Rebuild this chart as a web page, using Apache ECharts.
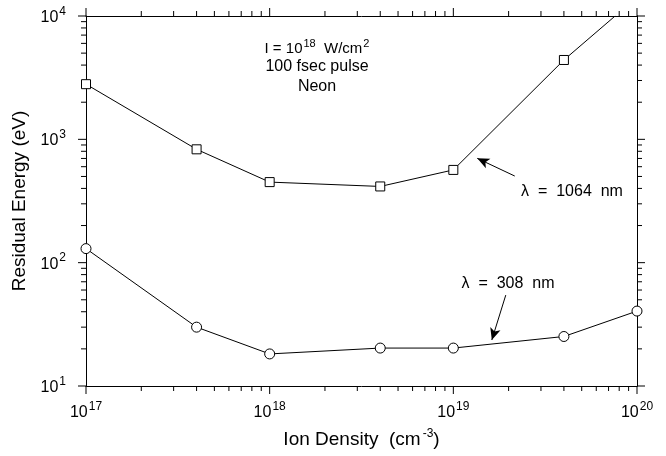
<!DOCTYPE html>
<html><head><meta charset="utf-8">
<script src="https://cdn.jsdelivr.net/npm/echarts@6/dist/echarts.min.js"></script>
<style>html,body{margin:0;padding:0;background:#fff}#c{width:666px;height:456px}</style>
</head><body><div id="c"></div>
<script>
// ---- data ----
const density1064 = [1e17, 4e17, 1e18, 4e18, 1e19, 4e19, 7.6e19];
const energy1064  = [2800, 830, 450, 415, 565, 4400, 10000];
const density308  = [1e17, 4e17, 1e18, 4e18, 1e19, 4e19, 1e20];
const energy308   = [130, 30, 18.2, 20.3, 20.3, 25.2, 40.5];
const xTickExps = [17, 18, 19, 20];
const yTickExps = [1, 2, 3, 4];
const arrow1064 = [[2.16e19, 504], [1.35e19, 701]];
const arrow308  = [[1.93e19, 54.6], [1.62e19, 23.6]];

const FONT = 'Liberation Sans';
const xMin = Math.pow(10, xTickExps[0]), xMax = Math.pow(10, xTickExps[xTickExps.length-1]);
const yMin = Math.pow(10, yTickExps[0]), yMax = Math.pow(10, yTickExps[yTickExps.length-1]);

// tick positions: majors 10^n, minors 2..9 x 10^n
const tickData = [];
xTickExps.forEach(e => tickData.push([Math.pow(10, e), yMin, 0, 8]));
yTickExps.forEach(e => tickData.push([xMin, Math.pow(10, e), 1, 8]));
for (let i = 0; i < xTickExps.length - 1; i++) for (let k = 2; k <= 9; k++) tickData.push([k * Math.pow(10, xTickExps[i]), yMin, 0, 5]);
for (let i = 0; i < yTickExps.length - 1; i++) for (let k = 2; k <= 9; k++) tickData.push([xMin, k * Math.pow(10, yTickExps[i]), 1, 5]);

const supRich = {
  b: {fontFamily: FONT, fontSize: 16, color: '#000', verticalAlign: 'bottom', lineHeight: 19},
  s: {fontFamily: FONT, fontSize: 12, color: '#000', verticalAlign: 'bottom', lineHeight: 19, padding: [0, 0, 8, 1]}
};
function expLabel(v) {
  const e = Math.round(Math.log10(v));
  return '{b|10}{s|' + e + '}';
}

const chart = echarts.init(document.getElementById('c'), null, {renderer: 'canvas'});
const axisLine = {show: true, lineStyle: {color: '#000', width: 1}};
chart.setOption({
  backgroundColor: '#fff',
  animation: false,
  grid: {left: 86, right: 29, top: 16, bottom: 70, containLabel: false},
  xAxis: [{
    type: 'log', min: xMin, max: xMax, logBase: 10,
    axisLine, splitLine: {show: false}, axisTick: {show: false},
    axisLabel: {formatter: expLabel, rich: supRich, margin: 16},
    name: '{a|Ion Density  (cm}{s|-3}{a|)}', nameLocation: 'middle', nameGap: 41,
    nameTextStyle: {rich: {
      a: {fontFamily: FONT, fontSize: 19, color: '#000', verticalAlign: 'bottom', lineHeight: 22},
      s: {fontFamily: FONT, fontSize: 12, color: '#000', verticalAlign: 'bottom', lineHeight: 22, padding: [0, 0, 9, 2]}
    }}
  }, {
    type: 'log', min: xMin, max: xMax, position: 'top',
    axisLine, splitLine: {show: false}, axisTick: {show: false}, axisLabel: {show: false}
  }],
  yAxis: [{
    type: 'log', min: yMin, max: yMax, logBase: 10,
    axisLine, splitLine: {show: false}, axisTick: {show: false},
    axisLabel: {formatter: expLabel, rich: supRich, margin: 20},
    name: 'Residual Energy (eV)', nameLocation: 'middle', nameGap: 53,
    nameTextStyle: {fontFamily: FONT, fontSize: 19, color: '#000'}
  }, {
    type: 'log', min: yMin, max: yMax, position: 'right',
    axisLine, splitLine: {show: false}, axisTick: {show: false}, axisLabel: {show: false}
  }],
  series: [{
    type: 'line', name: '1064',
    data: density1064.map((x, i) => i === density1064.length - 1
      ? {value: [x, energy1064[i]], symbol: 'none'}
      : [x, energy1064[i]]),
    symbol: 'rect', symbolSize: 9, showAllSymbol: true,
    itemStyle: {color: '#fff', borderColor: '#000', borderWidth: 1},
    lineStyle: {color: '#000', width: 1},
    markLine: {
      silent: true, symbol: ['none', 'arrow'], symbolSize: [8, 12],
      lineStyle: {color: '#000', width: 1, type: 'solid'}, label: {show: false},
      data: [[{coord: arrow1064[0]}, {coord: arrow1064[1]}]]
    },
    z: 3
  }, {
    type: 'line', name: '308',
    data: density308.map((x, i) => [x, energy308[i]]),
    symbol: 'circle', symbolSize: 10, showAllSymbol: true,
    itemStyle: {color: '#fff', borderColor: '#000', borderWidth: 1},
    lineStyle: {color: '#000', width: 1},
    markLine: {
      silent: true, symbol: ['none', 'arrow'], symbolSize: [8, 12],
      lineStyle: {color: '#000', width: 1, type: 'solid'}, label: {show: false},
      data: [[{coord: arrow308[0]}, {coord: arrow308[1]}]]
    },
    z: 3
  }, {
    type: 'custom', name: 'ticks', silent: true, clip: false,
    data: tickData,
    renderItem: function (params, api) {
      const kind = api.value(2);
      const L = api.value(3);
      const st = {stroke: '#000', lineWidth: 1};
      if (kind === 0) {
        const v = api.value(0);
        const b = api.coord([v, yMin]);
        const t = api.coord([v, yMax]);
        return {type: 'group', children: [
          {type: 'line', shape: {x1: b[0], y1: b[1], x2: b[0], y2: b[1] + L}, style: st},
          {type: 'line', shape: {x1: t[0], y1: t[1], x2: t[0], y2: t[1] - L}, style: st}
        ]};
      } else {
        const v = api.value(1);
        const l = api.coord([xMin, v]);
        const r = api.coord([xMax, v]);
        return {type: 'group', children: [
          {type: 'line', shape: {x1: l[0], y1: l[1], x2: l[0] - L, y2: l[1]}, style: st},
          {type: 'line', shape: {x1: r[0], y1: r[1], x2: r[0] + L, y2: r[1]}, style: st}
        ]};
      }
    }
  }],
  graphic: [
    {type: 'text', position: [317, 47], style: {
      text: '{t|I = 10}{s|18}{t|  W/cm}{s|2}', align: 'center', verticalAlign: 'middle',
      rich: {t: {fontFamily: FONT, fontSize: 15, fill: '#000', verticalAlign: 'bottom', lineHeight: 18},
             s: {fontFamily: FONT, fontSize: 11, fill: '#000', verticalAlign: 'bottom', lineHeight: 18, padding: [0, 0, 7, 1]}}
    }},
    {type: 'text', position: [317, 67], style: {text: '100 fsec pulse', fontFamily: FONT, fontSize: 16, fill: '#000', align: 'center', verticalAlign: 'middle'}},
    {type: 'text', position: [317, 87], style: {text: 'Neon', fontFamily: FONT, fontSize: 16, fill: '#000', align: 'center', verticalAlign: 'middle'}},
    {type: 'text', position: [572, 192], style: {text: 'λ  =  1064  nm', fontFamily: FONT, fontSize: 16, fill: '#000', align: 'center', verticalAlign: 'middle'}},
    {type: 'text', position: [508, 284], style: {text: 'λ  =  308  nm', fontFamily: FONT, fontSize: 16, fill: '#000', align: 'center', verticalAlign: 'middle'}}
  ]
});
</script></body></html>
